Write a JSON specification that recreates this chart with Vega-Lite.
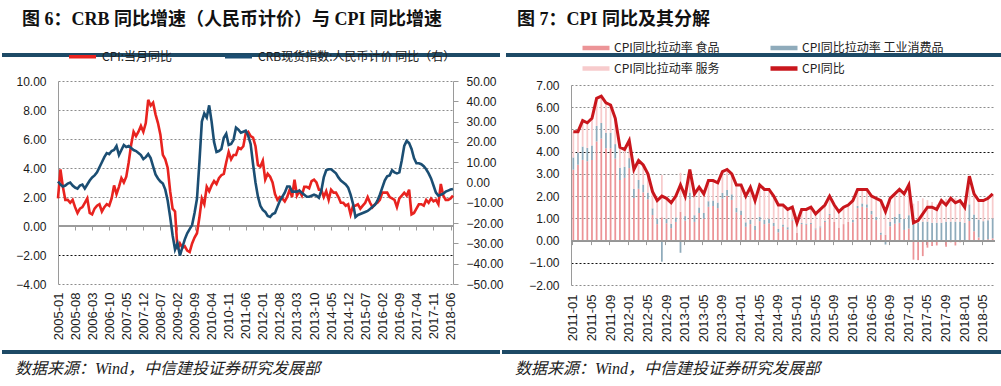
{
 "$schema": "https://vega.github.io/schema/vega-lite/v6.json",
 "padding": {"top": 11, "left": 2, "right": 0, "bottom": 0},
 "background": "white",
 "config": {
  "view": {"stroke": null},
  "font": "Liberation Sans",
  "axis": {"title": null, "labelFont": "Liberation Sans", "labelColor": "#1a1a1a", "labelFontSize": 12, "domainColor": "#9a9a9a", "tickColor": "#9a9a9a", "grid": false, "labelOverlap": false},
  "legend": {"title": null, "labelFont": "Noto Sans CJK SC", "labelFontSize": 12, "labelColor": "#222", "padding": 0, "offset": 0, "labelLimit": 400},
  "title": {"anchor": "start", "color": "#111"}
 },
 "datasets": {
  "L": [
   {"m":"2005-01","c":1.9,"r":0.5},{"m":"2005-02","c":3.9,"r":-1},{"m":"2005-03","c":2.7,"r":-2},{"m":"2005-04","c":1.8,"r":-1.5},{"m":"2005-05","c":1.8,"r":-0.5},{"m":"2005-06","c":1.6,"r":0},{"m":"2005-07","c":1.8,"r":-1.5},{"m":"2005-08","c":1.3,"r":-2.5},{"m":"2005-09","c":0.9,"r":-3},{"m":"2005-10","c":1.2,"r":-1.5},{"m":"2005-11","c":1.3,"r":-1},{"m":"2005-12","c":1.6,"r":-3},
   {"m":"2006-01","c":1.9,"r":-1},{"m":"2006-02","c":0.9,"r":1},{"m":"2006-03","c":0.8,"r":2.5},{"m":"2006-04","c":1.2,"r":3.5},{"m":"2006-05","c":1.4,"r":5},{"m":"2006-06","c":1.5,"r":7.5},{"m":"2006-07","c":1.0,"r":10},{"m":"2006-08","c":1.3,"r":12.5},{"m":"2006-09","c":1.5,"r":14.5},{"m":"2006-10","c":1.4,"r":14},{"m":"2006-11","c":1.9,"r":15.5},{"m":"2006-12","c":2.8,"r":16},
   {"m":"2007-01","c":2.2,"r":18},{"m":"2007-02","c":2.7,"r":13.5},{"m":"2007-03","c":3.3,"r":16},{"m":"2007-04","c":3.0,"r":18.5},{"m":"2007-05","c":3.4,"r":17.5},{"m":"2007-06","c":4.4,"r":18},{"m":"2007-07","c":5.6,"r":17},{"m":"2007-08","c":6.5,"r":16},{"m":"2007-09","c":6.2,"r":15.5},{"m":"2007-10","c":6.5,"r":14.5},{"m":"2007-11","c":6.9,"r":13.5},{"m":"2007-12","c":6.5,"r":11.5},
   {"m":"2008-01","c":7.1,"r":12.5},{"m":"2008-02","c":8.7,"r":14},{"m":"2008-03","c":8.3,"r":12},{"m":"2008-04","c":8.5,"r":8},{"m":"2008-05","c":7.7,"r":4},{"m":"2008-06","c":7.1,"r":2},{"m":"2008-07","c":6.3,"r":0.5},{"m":"2008-08","c":4.9,"r":-0.5},{"m":"2008-09","c":4.6,"r":-3.5},{"m":"2008-10","c":4.0,"r":-9},{"m":"2008-11","c":2.4,"r":-17},{"m":"2008-12","c":1.2,"r":-26},
   {"m":"2009-01","c":1.0,"r":-33},{"m":"2009-02","c":-1.6,"r":-30},{"m":"2009-03","c":-1.2,"r":-36},{"m":"2009-04","c":-1.5,"r":-32},{"m":"2009-05","c":-1.4,"r":-28},{"m":"2009-06","c":-1.7,"r":-25},{"m":"2009-07","c":-1.8,"r":-23},{"m":"2009-08","c":-1.2,"r":-21},{"m":"2009-09","c":-0.8,"r":-15},{"m":"2009-10","c":-0.5,"r":-8},{"m":"2009-11","c":0.6,"r":10},{"m":"2009-12","c":1.9,"r":30},
   {"m":"2010-01","c":1.5,"r":34},{"m":"2010-02","c":2.7,"r":32},{"m":"2010-03","c":2.4,"r":38},{"m":"2010-04","c":2.8,"r":30},{"m":"2010-05","c":3.1,"r":20},{"m":"2010-06","c":2.9,"r":15},{"m":"2010-07","c":3.3,"r":15.5},{"m":"2010-08","c":3.5,"r":16.5},{"m":"2010-09","c":3.6,"r":22},{"m":"2010-10","c":4.4,"r":24},{"m":"2010-11","c":5.1,"r":18.5},{"m":"2010-12","c":4.6,"r":19},
   {"m":"2011-01","c":4.9,"r":21},{"m":"2011-02","c":4.9,"r":27},{"m":"2011-03","c":5.4,"r":26},{"m":"2011-04","c":5.3,"r":24.5},{"m":"2011-05","c":5.5,"r":25},{"m":"2011-06","c":6.4,"r":25.5},{"m":"2011-07","c":6.5,"r":23},{"m":"2011-08","c":6.2,"r":19},{"m":"2011-09","c":6.1,"r":9},{"m":"2011-10","c":5.5,"r":0},{"m":"2011-11","c":4.2,"r":-7},{"m":"2011-12","c":4.1,"r":-11.5},
   {"m":"2012-01","c":4.5,"r":-13.5},{"m":"2012-02","c":3.2,"r":-14.5},{"m":"2012-03","c":3.6,"r":-16.5},{"m":"2012-04","c":3.4,"r":-17},{"m":"2012-05","c":3.0,"r":-15.5},{"m":"2012-06","c":2.2,"r":-15},{"m":"2012-07","c":1.8,"r":-12},{"m":"2012-08","c":2.0,"r":-9},{"m":"2012-09","c":1.9,"r":-7},{"m":"2012-10","c":1.7,"r":-5},{"m":"2012-11","c":2.0,"r":-2},{"m":"2012-12","c":2.5,"r":-2},
   {"m":"2013-01","c":2.0,"r":-4.5},{"m":"2013-02","c":3.2,"r":-4.5},{"m":"2013-03","c":2.1,"r":-4.5},{"m":"2013-04","c":2.4,"r":-4},{"m":"2013-05","c":2.1,"r":-5},{"m":"2013-06","c":2.7,"r":-6},{"m":"2013-07","c":2.7,"r":-7},{"m":"2013-08","c":2.6,"r":-7},{"m":"2013-09","c":3.1,"r":-6.5},{"m":"2013-10","c":3.2,"r":-6},{"m":"2013-11","c":3.0,"r":-6.5},{"m":"2013-12","c":2.5,"r":-7.5},
   {"m":"2014-01","c":2.5,"r":-4},{"m":"2014-02","c":2.0,"r":2.5},{"m":"2014-03","c":2.4,"r":6},{"m":"2014-04","c":1.8,"r":6.5},{"m":"2014-05","c":2.5,"r":6.5},{"m":"2014-06","c":2.3,"r":5.5},{"m":"2014-07","c":2.3,"r":4.5},{"m":"2014-08","c":2.0,"r":2.5},{"m":"2014-09","c":1.6,"r":1},{"m":"2014-10","c":1.6,"r":0},{"m":"2014-11","c":1.4,"r":-1},{"m":"2014-12","c":1.5,"r":-2.5},
   {"m":"2015-01","c":0.8,"r":-6},{"m":"2015-02","c":1.4,"r":-10.5},{"m":"2015-03","c":1.4,"r":-17},{"m":"2015-04","c":1.5,"r":-16},{"m":"2015-05","c":1.2,"r":-15.5},{"m":"2015-06","c":1.4,"r":-15},{"m":"2015-07","c":1.6,"r":-14.5},{"m":"2015-08","c":2.0,"r":-14},{"m":"2015-09","c":1.6,"r":-13},{"m":"2015-10","c":1.3,"r":-12},{"m":"2015-11","c":1.5,"r":-11},{"m":"2015-12","c":1.6,"r":-9},
   {"m":"2016-01","c":1.8,"r":-6},{"m":"2016-02","c":2.3,"r":-2.5},{"m":"2016-03","c":2.3,"r":1},{"m":"2016-04","c":2.3,"r":3},{"m":"2016-05","c":2.0,"r":3.5},{"m":"2016-06","c":1.9,"r":6},{"m":"2016-07","c":1.8,"r":5},{"m":"2016-08","c":1.3,"r":4.5},{"m":"2016-09","c":1.9,"r":5},{"m":"2016-10","c":2.1,"r":11},{"m":"2016-11","c":2.3,"r":18},{"m":"2016-12","c":2.1,"r":20.5},
   {"m":"2017-01","c":2.5,"r":19.5},{"m":"2017-02","c":0.8,"r":16.5},{"m":"2017-03","c":0.9,"r":12},{"m":"2017-04","c":1.2,"r":9.5},{"m":"2017-05","c":1.5,"r":9.5},{"m":"2017-06","c":1.5,"r":9},{"m":"2017-07","c":1.4,"r":8},{"m":"2017-08","c":1.8,"r":6.5},{"m":"2017-09","c":1.6,"r":4.5},{"m":"2017-10","c":1.9,"r":2},{"m":"2017-11","c":1.7,"r":-1.5},{"m":"2017-12","c":1.8,"r":-5},
   {"m":"2018-01","c":1.5,"r":-6.5},{"m":"2018-02","c":2.9,"r":-6},{"m":"2018-03","c":2.1,"r":-5.5},{"m":"2018-04","c":1.8,"r":-4.5},{"m":"2018-05","c":1.8,"r":-4},{"m":"2018-06","c":1.9,"r":-3.5},{"m":"2018-07","c":2.1,"r":-3.2}
  ],
  "R": [
   {"m":"2011-01","f":3.19,"i":0.55,"s":1.16,"c":4.9},{"m":"2011-02","f":3.41,"i":0.55,"s":0.94,"c":4.9},{"m":"2011-03","f":3.63,"i":0.6,"s":1.17,"c":5.4},{"m":"2011-04","f":3.57,"i":0.6,"s":1.13,"c":5.3},{"m":"2011-05","f":3.63,"i":0.65,"s":1.22,"c":5.5},{"m":"2011-06","f":4.46,"i":0.7,"s":1.24,"c":6.4},{"m":"2011-07","f":4.59,"i":0.7,"s":1.21,"c":6.5},{"m":"2011-08","f":4.15,"i":0.7,"s":1.35,"c":6.2},{"m":"2011-09","f":4.15,"i":0.7,"s":1.25,"c":6.1},{"m":"2011-10","f":3.69,"i":0.65,"s":1.16,"c":5.5},{"m":"2011-11","f":2.73,"i":0.55,"s":0.92,"c":4.2},{"m":"2011-12","f":2.82,"i":0.5,"s":0.78,"c":4.1},
   {"m":"2012-01","f":3.26,"i":0.45,"s":0.79,"c":4.5},{"m":"2012-02","f":1.92,"i":0.4,"s":0.88,"c":3.2},{"m":"2012-03","f":2.33,"i":0.4,"s":0.87,"c":3.6},{"m":"2012-04","f":2.17,"i":0.35,"s":0.88,"c":3.4},{"m":"2012-05","f":1.86,"i":0.3,"s":0.84,"c":3.0},{"m":"2012-06","f":1.15,"i":0.3,"s":0.75,"c":2.2},{"m":"2012-07","f":0.74,"i":0.25,"s":0.81,"c":1.8},{"m":"2012-08","f":1.05,"i":-0.95,"s":1.9,"c":2.0},{"m":"2012-09","f":0.78,"i":0.2,"s":0.92,"c":1.9},{"m":"2012-10","f":0.56,"i":0.2,"s":0.94,"c":1.7},{"m":"2012-11","f":0.84,"i":0.2,"s":0.96,"c":2.0},{"m":"2012-12","f":1.3,"i":-0.55,"s":1.75,"c":2.5},
   {"m":"2013-01","f":0.9,"i":0.2,"s":0.9,"c":2.0},{"m":"2013-02","f":1.86,"i":0.3,"s":1.04,"c":3.2},{"m":"2013-03","f":0.84,"i":0.3,"s":0.96,"c":2.1},{"m":"2013-04","f":1.24,"i":0.25,"s":0.91,"c":2.4},{"m":"2013-05","f":0.99,"i":0.25,"s":0.86,"c":2.1},{"m":"2013-06","f":1.52,"i":0.25,"s":0.93,"c":2.7},{"m":"2013-07","f":1.55,"i":0.25,"s":0.9,"c":2.7},{"m":"2013-08","f":1.46,"i":0.25,"s":0.89,"c":2.6},{"m":"2013-09","f":1.89,"i":0.25,"s":0.96,"c":3.1},{"m":"2013-10","f":2.02,"i":0.25,"s":0.93,"c":3.2},{"m":"2013-11","f":1.83,"i":0.25,"s":0.92,"c":3.0},{"m":"2013-12","f":1.27,"i":0.2,"s":1.03,"c":2.5},
   {"m":"2014-01","f":1.15,"i":0.2,"s":1.15,"c":2.5},{"m":"2014-02","f":0.62,"i":0.2,"s":1.18,"c":2.0},{"m":"2014-03","f":0.74,"i":0.2,"s":1.46,"c":2.4},{"m":"2014-04","f":0.47,"i":0.2,"s":1.13,"c":1.8},{"m":"2014-05","f":0.87,"i":0.2,"s":1.43,"c":2.5},{"m":"2014-06","f":0.74,"i":0.2,"s":1.36,"c":2.3},{"m":"2014-07","f":0.78,"i":0.2,"s":1.32,"c":2.3},{"m":"2014-08","f":0.65,"i":0.15,"s":1.2,"c":2.0},{"m":"2014-09","f":0.37,"i":0.15,"s":1.08,"c":1.6},{"m":"2014-10","f":0.62,"i":0.1,"s":0.88,"c":1.6},{"m":"2014-11","f":0.5,"i":0.1,"s":0.8,"c":1.4},{"m":"2014-12","f":0.9,"i":0.05,"s":0.55,"c":1.5},
   {"m":"2015-01","f":0.34,"i":0.0,"s":0.46,"c":0.8},{"m":"2015-02","f":0.74,"i":0.05,"s":0.61,"c":1.4},{"m":"2015-03","f":0.71,"i":0.05,"s":0.64,"c":1.4},{"m":"2015-04","f":0.74,"i":0.05,"s":0.71,"c":1.5},{"m":"2015-05","f":0.5,"i":0.05,"s":0.65,"c":1.2},{"m":"2015-06","f":0.59,"i":0.05,"s":0.76,"c":1.4},{"m":"2015-07","f":0.84,"i":0.05,"s":0.71,"c":1.6},{"m":"2015-08","f":1.15,"i":0.05,"s":0.8,"c":2.0},{"m":"2015-09","f":0.84,"i":0.0,"s":0.76,"c":1.6},{"m":"2015-10","f":0.59,"i":0.0,"s":0.71,"c":1.3},{"m":"2015-11","f":0.74,"i":0.0,"s":0.76,"c":1.5},{"m":"2015-12","f":0.84,"i":0.0,"s":0.76,"c":1.6},
   {"m":"2016-01","f":0.82,"i":0.1,"s":0.88,"c":1.8},{"m":"2016-02","f":1.46,"i":0.1,"s":0.74,"c":2.3},{"m":"2016-03","f":1.52,"i":0.15,"s":0.63,"c":2.3},{"m":"2016-04","f":1.48,"i":0.15,"s":0.67,"c":2.3},{"m":"2016-05","f":1.18,"i":0.15,"s":0.67,"c":2.0},{"m":"2016-06","f":0.92,"i":0.15,"s":0.83,"c":1.9},{"m":"2016-07","f":0.26,"i":0.1,"s":1.44,"c":1.8},{"m":"2016-08","f":0.26,"i":-0.18,"s":1.22,"c":1.3},{"m":"2016-09","f":0.64,"i":0.2,"s":1.06,"c":1.9},{"m":"2016-10","f":0.76,"i":0.3,"s":1.04,"c":2.1},{"m":"2016-11","f":0.8,"i":0.4,"s":1.1,"c":2.3},{"m":"2016-12","f":0.48,"i":0.5,"s":1.12,"c":2.1},
   {"m":"2017-01","f":0.54,"i":0.6,"s":1.36,"c":2.5},{"m":"2017-02","f":-0.86,"i":0.8,"s":0.86,"c":0.8},{"m":"2017-03","f":-0.88,"i":0.8,"s":0.98,"c":0.9},{"m":"2017-04","f":-0.7,"i":0.85,"s":1.05,"c":1.2},{"m":"2017-05","f":-0.32,"i":0.85,"s":0.97,"c":1.5},{"m":"2017-06","f":-0.24,"i":0.8,"s":0.94,"c":1.5},{"m":"2017-07","f":-0.22,"i":0.8,"s":0.82,"c":1.4},{"m":"2017-08","f":-0.04,"i":0.8,"s":1.04,"c":1.8},{"m":"2017-09","f":-0.28,"i":0.85,"s":1.03,"c":1.6},{"m":"2017-10","f":-0.08,"i":0.85,"s":1.13,"c":1.9},{"m":"2017-11","f":-0.22,"i":0.85,"s":1.07,"c":1.7},{"m":"2017-12","f":-0.08,"i":0.85,"s":1.03,"c":1.8},
   {"m":"2018-01","f":0.0,"i":0.8,"s":0.7,"c":1.5},{"m":"2018-02","f":0.88,"i":0.75,"s":1.27,"c":2.9},{"m":"2018-03","f":0.42,"i":0.75,"s":0.93,"c":2.1},{"m":"2018-04","f":0.14,"i":0.8,"s":0.86,"c":1.8},{"m":"2018-05","f":0.02,"i":0.85,"s":0.93,"c":1.8},{"m":"2018-06","f":0.06,"i":0.85,"s":0.99,"c":1.9},{"m":"2018-07","f":0.1,"i":0.9,"s":1.1,"c":2.1}
  ]
 },
 "resolve": {"scale": {"color": "independent"}},
 "spacing": 8,
 "vconcat": [
  {
   "spacing": 2,
   "resolve": {"scale": {"color": "independent"}},
   "hconcat": [
    {
     "spacing": -7,
     "resolve": {"scale": {"color": "independent"}},
     "vconcat": [
      {
       "width": 498, "height": 4,
       "view": {"fill": "#1d4a66", "stroke": null},
       "data": {"values": []},
       "mark": "rect",
       "title": {"text": "图 6：CRB 同比增速（人民币计价）与 CPI 同比增速", "font": "Liberation Serif, Noto Sans CJK SC", "fontSize": 18, "fontWeight": "bold", "anchor": "start", "dx": 20, "offset": 10, "baseline": "alphabetic", "color": "#111"}
      },
      {
       "spacing": 0,
       "resolve": {"scale": {"color": "independent"}},
       "hconcat": [
        {"width": 13, "height": 1, "data": {"values": []}, "mark": "rect"},
        {
         "width": 395, "height": 203,
         "data": {"name": "L"},
         "resolve": {"scale": {"y": "independent"}, "axis": {"x": "independent"}},
         "layer": [
          {
           "layer": [
            {"mark": {"type": "rule", "color": "#9a9a9a", "strokeWidth": 1}, "encoding": {"y": {"datum": 0}}},
            {
             "mark": {"type": "line", "strokeWidth": 2.6},
             "encoding": {
              "x": {"field": "m", "type": "ordinal", "scale": {"type": "point", "padding": 0},
                    "axis": {"values": ["2005-01","2005-08","2006-03","2006-10","2007-05","2007-12","2008-07","2009-02","2009-09","2010-04","2010-11","2011-06","2012-01","2012-08","2013-03","2013-10","2014-05","2014-12","2015-07","2016-02","2016-09","2017-04","2017-11","2018-06"],
                             "labelAngle": 270, "labelFontSize": 13, "labelPadding": 8, "ticks": false, "domain": false}},
              "y": {"field": "c", "type": "quantitative", "scale": {"domain": [-4, 10], "nice": false},
                    "axis": {"orient": "left", "values": [-4,-2,0,2,4,6,8,10], "tickCount": 20, "format": ".2f", "ticks": false, "labelPadding": 12, "domain": true, "grid": true,
                             "gridColor": {"condition": {"test": "datum.value == -2", "value": "#111"}, "value": "#8c8c8c"},
                             "gridOpacity": {"condition": {"test": "datum.value == 0", "value": 0}, "value": 1},
                             "gridDash": [2, 2], "gridWidth": 1}},
              "color": {"datum": "CPI:当月同比", "type": "nominal",
                        "scale": {"domain": ["CPI:当月同比", "CRB现货指数:人民币计价 同比（右）"], "range": ["#e8231f", "#1b4e73"]},
                        "legend": {"orient": "none", "legendX": 18, "legendY": -31, "direction": "horizontal", "symbolType": "M-3,0H3", "symbolSize": 81, "symbolStrokeWidth": 3.5, "columnPadding": 45, "labelOffset": 13, "offset": 0}}
             }
            }
           ]
          },
          {
           "mark": {"type": "line", "strokeWidth": 2.6},
           "encoding": {
            "x": {"field": "m", "type": "ordinal",
                  "axis": {"orient": "bottom", "offset": -58, "values": ["2005-01","2005-08","2006-03","2006-10","2007-05","2007-12","2008-07","2009-02","2009-09","2010-04","2010-11","2011-06","2012-01","2012-08","2013-03","2013-10","2014-05","2014-12","2015-07","2016-02","2016-09","2017-04","2017-11","2018-06"],
                           "labels": false, "ticks": true, "tickSize": 4, "domain": false, "grid": false}},
            "y": {"field": "r", "type": "quantitative", "scale": {"domain": [-50, 50], "nice": false},
                  "axis": {"orient": "right", "values": [-50,-40,-30,-20,-10,0,10,20,30,40,50], "tickCount": 20, "format": ".2f", "ticks": true, "tickSize": 5, "labelPadding": 8, "domain": true, "grid": false}},
            "color": {"datum": "CRB现货指数:人民币计价 同比（右）", "type": "nominal"}
           }
          }
         ]
        }
       ]
      }
     ]
    },
    {
     "spacing": -15,
     "resolve": {"scale": {"color": "independent"}},
     "vconcat": [
      {
       "width": 499, "height": 4,
       "view": {"fill": "#1d4a66", "stroke": null},
       "data": {"values": []},
       "mark": "rect",
       "title": {"text": "图 7：CPI 同比及其分解", "font": "Liberation Serif, Noto Sans CJK SC", "fontSize": 18, "fontWeight": "bold", "anchor": "start", "dx": 11, "offset": 10, "baseline": "alphabetic", "color": "#111"}
      },
      {
       "spacing": 0,
       "resolve": {"scale": {"color": "independent"}},
       "hconcat": [
        {"width": 22, "height": 1, "data": {"values": []}, "mark": "rect"},
        {
         "width": 424, "height": 200,
         "data": {"name": "R"},
         "resolve": {"axis": {"x": "independent"}},
         "layer": [
          {
           "transform": [{"fold": ["f", "i", "s"], "as": ["k", "v"]}],
           "mark": {"type": "bar"},
           "encoding": {
            "x": {"field": "m", "type": "ordinal", "scale": {"paddingInner": 0.62, "paddingOuter": 0.31},
                  "axis": {"values": ["2011-01","2011-05","2011-09","2012-01","2012-05","2012-09","2013-01","2013-05","2013-09","2014-01","2014-05","2014-09","2015-01","2015-05","2015-09","2016-01","2016-05","2016-09","2017-01","2017-05","2017-09","2018-01","2018-05"],
                           "labelAngle": 270, "labelFontSize": 13, "labelPadding": 9, "ticks": false, "domain": false}},
            "y": {"field": "v", "type": "quantitative", "stack": "zero", "scale": {"domain": [-2, 7], "nice": false},
                  "axis": {"orient": "left", "values": [-2,-1,0,1,2,3,4,5,6,7], "tickCount": 20, "format": ".2f", "ticks": false, "labelPadding": 12, "domain": true, "grid": true,
                           "gridColor": {"condition": {"test": "datum.value == 4 || datum.value == -1", "value": "#111"}, "value": "#8c8c8c"},
                           "gridOpacity": {"condition": {"test": "datum.value == 0", "value": 0}, "value": 1},
                           "gridDash": [2, 2], "gridWidth": 1}},
            "color": {"field": "k", "type": "nominal",
                      "scale": {"domain": ["f", "i", "s", "c"], "range": ["#ec9497", "#8fabbb", "#f7cbcc", "#c9161c"]},
                      "legend": {"orient": "none", "legendX": 19, "legendY": -43, "direction": "horizontal", "columns": 2,
                                 "symbolType": "M-3,-0.5H3V0.5H-3Z", "symbolSize": 81, "symbolStrokeWidth": 0,
                                 "columnPadding": 50, "rowPadding": 8.5, "labelOffset": 12, "offset": 0,
                                 "labelExpr": "datum.value == 'f' ? 'CPI同比拉动率 食品' : datum.value == 'i' ? 'CPI同比拉动率 工业消费品' : datum.value == 's' ? 'CPI同比拉动率 服务' : 'CPI同比'"}},
            "order": {"field": "k", "sort": "ascending"}
           }
          },
          {"mark": {"type": "rule", "color": "#9a9a9a", "strokeWidth": 1}, "encoding": {"y": {"datum": 0}}},
          {
           "mark": {"type": "line", "color": "#c9161c", "strokeWidth": 3},
           "encoding": {
            "x": {"field": "m", "type": "ordinal",
                  "axis": {"orient": "bottom", "offset": -44.4, "bandPosition": 0, "values": ["2011-01","2011-05","2011-09","2012-01","2012-05","2012-09","2013-01","2013-05","2013-09","2014-01","2014-05","2014-09","2015-01","2015-05","2015-09","2016-01","2016-05","2016-09","2017-01","2017-05","2017-09","2018-01","2018-05"],
                           "labels": false, "ticks": true, "tickSize": 4, "domain": false, "grid": false}},
            "y": {"field": "c", "type": "quantitative"}
           }
          }
         ]
        }
       ]
      }
     ]
    }
   ]
  },
  {
   "spacing": 2,
   "hconcat": [
    {
     "width": 498, "height": 4,
     "view": {"fill": "#1d4a66", "stroke": null},
     "data": {"values": []},
     "mark": "rect",
     "title": {"text": "数据来源：Wind，中信建投证券研究发展部", "orient": "bottom", "anchor": "start", "dx": 13, "offset": 7, "baseline": "top", "font": "Liberation Serif, Noto Sans CJK SC", "fontSize": 16, "fontStyle": "italic", "fontWeight": "normal", "color": "#222"}
    },
    {
     "width": 499, "height": 4,
     "view": {"fill": "#1d4a66", "stroke": null},
     "data": {"values": []},
     "mark": "rect",
     "title": {"text": "数据来源：Wind，中信建投证券研究发展部", "orient": "bottom", "anchor": "start", "dx": 13, "offset": 7, "baseline": "top", "font": "Liberation Serif, Noto Sans CJK SC", "fontSize": 16, "fontStyle": "italic", "fontWeight": "normal", "color": "#222"}
    }
   ]
  }
 ]
}
